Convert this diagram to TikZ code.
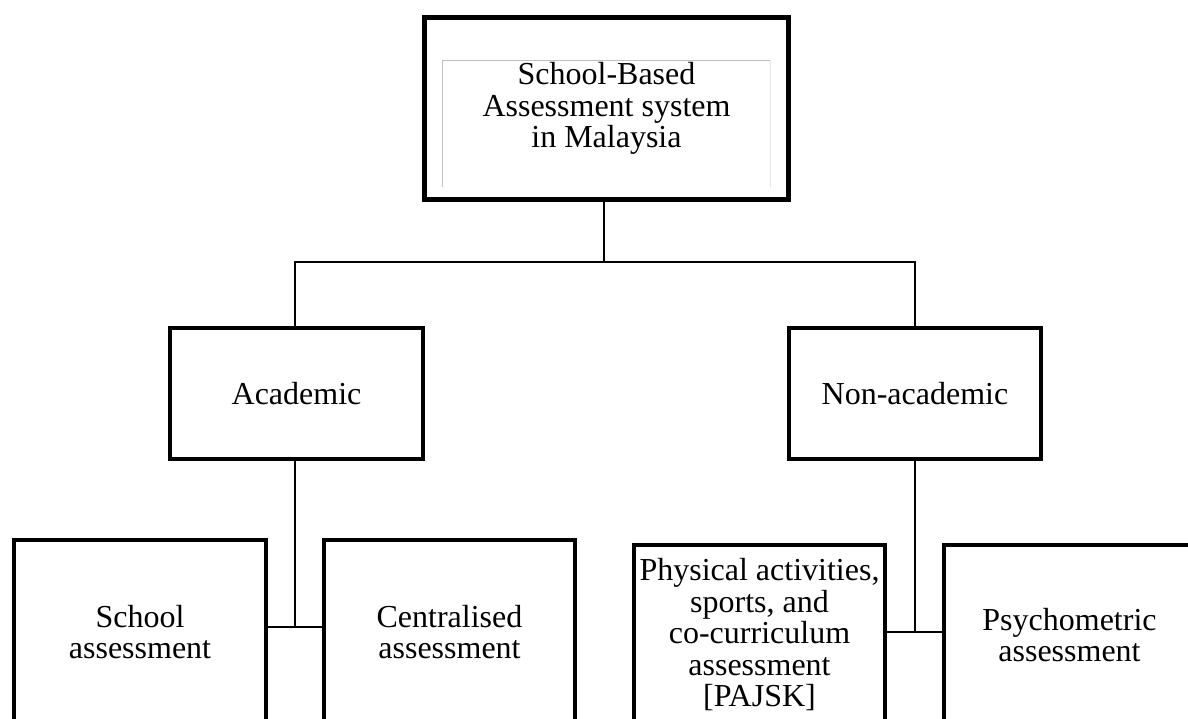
\documentclass[tikz,border=0pt]{standalone}
\usepackage{fontspec}
\setmainfont{Liberation Serif}
\begin{document}
\begin{tikzpicture}[x=1pt,y=-1pt,
  box/.style={draw=black,line width=4.5pt,rectangle,inner sep=0pt,align=center,
    font=\fontsize{32}{31.5}\selectfont},
  conn/.style={draw=black,line width=2pt}]
\clip (0,0) rectangle (1188,718);
\fill[white] (0,0) rectangle (1188,718);
% nodes
\node[box,line width=5pt,minimum width=364pt,minimum height=182pt] (top) at (606.5,108.5)
  {School-Based\\Assessment system\\in Malaysia};
\node[box,minimum width=253pt,minimum height=131pt] (acad) at (296.5,393.5) {Academic};
\node[box,minimum width=252pt,minimum height=131pt] (nonacad) at (915,393.5) {Non-academic};
\node[box,minimum width=252pt,minimum height=184pt] (school) at (140,632) {School\\assessment};
\node[box,minimum width=251pt,minimum height=184pt] (central) at (449.5,632) {Centralised\\assessment};
\node[box,minimum width=251pt,minimum height=180pt] (pajsk) at (759.5,635)
  {Physical activities,\\sports, and\\co-curriculum\\assessment\\{[}PAJSK{]}};
\node[box,minimum width=251pt,minimum height=180pt] (psych) at (1069.5,635) {Psychometric\\assessment};
% thin grey frame inside the top box
\draw[gray!50,line width=0.8pt] (442,187) -- (442,60) -- (770,60);
\draw[gray!20,line width=0.8pt] (770,60) -- (770,187);
% connectors
\coordinate (j1) at (604,262);
\coordinate (j2) at (295,627);
\coordinate (j3) at (915,632);
\draw[conn] (top.south -| j1) -- (j1);
\draw[conn] (acad.north -| j2) -- (j2 |- j1) -- (j3 |- j1) -- (nonacad.north);
\draw[conn] (acad.south -| j2) -- (j2);
\draw[conn] (school.east |- j2) -- (central.west |- j2);
\draw[conn] (nonacad.south) -- (j3);
\draw[conn] (pajsk.east |- j3) -- (psych.west |- j3);
\end{tikzpicture}
\end{document}
